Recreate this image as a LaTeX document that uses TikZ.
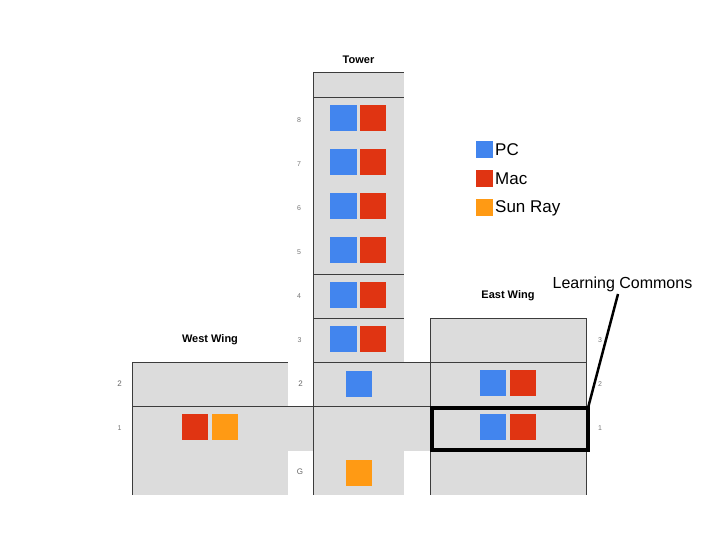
\documentclass[tikz,border=0pt]{standalone}
\usepackage{fontspec}
\setmainfont{Liberation Sans}
\definecolor{pcblue}{HTML}{4285EE}
\definecolor{macred}{HTML}{E03412}
\definecolor{sunor}{HTML}{FF9A14}
\definecolor{wallg}{HTML}{DCDCDC}
\definecolor{ruleg}{HTML}{3C3C3C}
\definecolor{numg}{HTML}{777777}
\tikzset{
  sq/.style={rectangle,draw=none,inner sep=0pt,outer sep=0pt,minimum size=26pt,anchor=north west},
  pc/.style={sq,fill=pcblue},
  pcw/.style={pc,minimum width=27pt},
  mac/.style={sq,fill=macred},
  sun/.style={sq,fill=sunor},
  lg/.style={rectangle,draw=none,inner sep=0pt,outer sep=0pt,minimum size=17pt,anchor=north west},
  rulel/.style={draw=ruleg,line width=1pt},
  floorlab/.style={text=numg,font=\fontsize{7}{8}\selectfont,inner sep=0pt},
  floorlabb/.style={text=numg!85!black,font=\fontsize{8}{9}\selectfont,inner sep=0pt},
  wing/.style={text=black,font=\fontsize{11}{13}\bfseries\selectfont,inner sep=0pt},
  legt/.style={text=black,font=\fontsize{17}{19}\selectfont,inner sep=0pt,anchor=west},
}
\begin{document}
\begin{tikzpicture}[x=1pt,y=-1pt]
\useasboundingbox (0,0) rectangle (720,540);
% grey areas
\fill[wallg] (132,362.5) rectangle (288,495);
\fill[wallg] (288,406.5) rectangle (313,451);
\fill[wallg] (313,72.5) rectangle (404,495);
\fill[wallg] (404,362.5) rectangle (430,451);
\fill[wallg] (430,318.5) rectangle (586.5,495);
% rules
\draw[rulel] (132,362.5) -- (288,362.5);
\draw[rulel] (132,406.5) -- (432,406.5);
\draw[rulel] (132,362) -- (132,495);
\draw[rulel] (313,72) -- (313,495);
\draw[rulel] (313,72.5) -- (404,72.5);
\draw[rulel] (313,97.5) -- (404,97.5);
\draw[rulel] (313,274.5) -- (404,274.5);
\draw[rulel] (313,318.5) -- (404,318.5);
\draw[rulel] (313,362.5) -- (586,362.5);
\draw[rulel] (430,318.5) -- (586,318.5);
\draw[rulel] (430,318) -- (430,495);
\draw[rulel] (586.5,318) -- (586.5,495);
% tower squares
\foreach \n/\y in {a/105,b/149,c/193,d/237,e/281.5,f/325.5}{
  \node[pcw] (tp\n) at (330,\y) {};
  \node[mac] (tm\n) at (360,\y) {};
}
\node[pc] (t2) at (346,371) {};
\node[sun] (tg) at (346,460) {};
\node[mac] (w1m) at (182,414) {};
\node[sun] (w1s) at (212,414) {};
\node[pc] (e2p) at (480,370) {};
\node[mac] (e2m) at (510,370) {};
\node[pc] (e1p) at (480,414) {};
\node[mac] (e1m) at (510,414) {};
% legend
\node[lg,fill=pcblue] (lp) at (476,141) {};
\node[lg,fill=macred] (lm) at (476,170) {};
\node[lg,fill=sunor] (ls) at (476,199) {};
\node[legt] (tpc) at (495,149.5) {PC};
\node[legt] (tmac) at (495,178.5) {Mac};
\node[legt] (tsun) at (495,208) {Sun Ray};
% wing titles
\node[wing] (ttower) at (358.5,59.5) {Tower};
\node[wing] (twest) at (210,340) {West Wing};
\node[wing] (teast) at (508,295.5) {East Wing};
% floor labels
\node[floorlab] (n8) at (299,120) {8};
\node[floorlab] (n7) at (299,164) {7};
\node[floorlab] (n6) at (299,208) {6};
\node[floorlab] (n5) at (299,252) {5};
\node[floorlab] (n4) at (299,296) {4};
\node[floorlab] (n3) at (299.5,340) {3};
\node[floorlabb] (n2) at (300.5,384) {2};
\node[floorlabb] (ng) at (300,472) {G};
\node[floorlabb] (w2) at (119.5,384) {2};
\node[floorlab] (w1) at (119.5,428) {1};
\node[floorlab] (e3) at (600,340) {3};
\node[floorlab] (e2) at (600,384) {2};
\node[floorlab] (e1) at (600,428) {1};
% highlight
\node[rectangle,draw=black,line width=4pt,inner sep=0pt,outer sep=0pt,minimum width=156pt,minimum height=42pt,anchor=north west] (lc) at (432,408) {};
\node[text=black,font=\fontsize{16}{18}\selectfont,inner sep=0pt] (lct) at (622.5,284.5) {Learning Commons};
\coordinate (lead) at (618,294);
\draw[black,line width=2.5pt] (lc.north east) -- (lead);
\end{tikzpicture}
\end{document}
